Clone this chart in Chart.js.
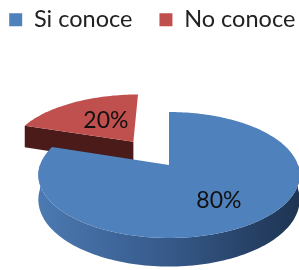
<!DOCTYPE html>
<html>
<head>
<meta charset="utf-8">
<script src="https://cdn.jsdelivr.net/npm/chart.js@4.4.1/dist/chart.umd.min.js"></script>
<style>
  html, body { margin: 0; padding: 0; background: #fff; }
  #wrap { width: 299px; height: 270px; }
</style>
</head>
<body>
<div id="wrap"><canvas id="pie" width="299" height="270"></canvas></div>
<script>
// data
const categories = ['Si conoce', 'No conoce'];
const shares = [80, 20];

// styles
const topColors = ['#4f81bd', '#c0504d'];
const sideColors = [['#4b79b1', '#36598a', '#1e3452'], ['#511e1c', '#4a1b19', '#421816']];
const explode = [0, 0.5];            // in radius units
const labelNudge = [[5, 6], [7, 2]]; // px, label fine tuning

// 3d view (tilted disc with a bit of perspective)
const view = { cx: 169, cy: 165, rx: 129, ry: 61.4, persp: 0.1587, depth: 24 };

function proj(u, v, h) {
  const s = 1 / (1 - view.persp * v);
  return [view.cx + view.rx * u * s, view.cy + (view.ry * v + view.depth * h) * s];
}

function rim(ox, oy, a, b, h) {
  const pts = [];
  const n = Math.max(2, Math.ceil(Math.abs(b - a) / (Math.PI / 120)));
  for (let i = 0; i <= n; i++) {
    const t = a + (b - a) * i / n;
    pts.push(proj(ox + Math.cos(t), oy + Math.sin(t), h));
  }
  return pts;
}

function fillPoly(ctx, pts, style) {
  ctx.beginPath();
  ctx.moveTo(pts[0][0], pts[0][1]);
  for (let i = 1; i < pts.length; i++) ctx.lineTo(pts[i][0], pts[i][1]);
  ctx.closePath();
  ctx.fillStyle = style;
  ctx.fill();
}

const pie3d = {
  id: 'pie3d',
  beforeDatasetsDraw(chart) {
    const ctx = chart.ctx;
    const arcs = chart.getDatasetMeta(0).data;
    const total = shares.reduce((s, v) => s + v, 0);

    // back slices first
    const order = arcs.map((arc, i) => i).sort((i, j) => {
      const mi = (arcs[i].startAngle + arcs[i].endAngle) / 2;
      const mj = (arcs[j].startAngle + arcs[j].endAngle) / 2;
      return Math.sin(mi) - Math.sin(mj);
    });

    ctx.save();
    order.forEach(i => {
      const arc = arcs[i];
      const a = arc.startAngle, b = arc.endAngle;
      const mid = (a + b) / 2;
      const ox = explode[i] * Math.cos(mid), oy = explode[i] * Math.sin(mid);

      const grad = ctx.createLinearGradient(view.cx - view.rx, 0, view.cx + view.rx, 0);
      grad.addColorStop(0, sideColors[i][0]);
      grad.addColorStop(0.5, sideColors[i][1]);
      grad.addColorStop(1, sideColors[i][2]);

      // outer wall, only the front half shows
      for (let k = -1; k <= 2; k++) {
        const lo = Math.max(a, 2 * Math.PI * k), hi = Math.min(b, 2 * Math.PI * k + Math.PI);
        if (hi > lo) {
          const pts = rim(ox, oy, lo, hi, 0).concat(rim(ox, oy, hi, lo, 1));
          fillPoly(ctx, pts, grad);
        }
      }

      // cut faces
      [[a, -Math.cos(a)], [b, Math.cos(b)]].forEach(([t, facing]) => {
        if (facing > 0.01) {
          const pts = [
            proj(ox, oy, 0),
            proj(ox + Math.cos(t), oy + Math.sin(t), 0),
            proj(ox + Math.cos(t), oy + Math.sin(t), 1),
            proj(ox, oy, 1)
          ];
          fillPoly(ctx, pts, sideColors[i][1]);
        }
      });

      // top face
      fillPoly(ctx, [proj(ox, oy, 0)].concat(rim(ox, oy, a, b, 0)), topColors[i]);
    });

    // percentage labels
    ctx.fillStyle = '#111';
    ctx.font = '23px Lato';
    ctx.textAlign = 'center';
    ctx.textBaseline = 'middle';
    arcs.forEach((arc, i) => {
      const mid = (arc.startAngle + arc.endAngle) / 2;
      const f = 0.55;
      const ox = explode[i] * Math.cos(mid), oy = explode[i] * Math.sin(mid);
      const p = proj(ox + f * Math.cos(mid), oy + f * Math.sin(mid), 0);
      ctx.fillText(Math.round(shares[i] / total * 100) + '%', p[0] + labelNudge[i][0], p[1] + labelNudge[i][1]);
    });
    ctx.restore();
    return false;
  }
};

new Chart(document.getElementById('pie'), {
  type: 'pie',
  data: {
    labels: categories,
    datasets: [{
      data: shares,
      backgroundColor: topColors,
      borderWidth: 0
    }]
  },
  options: {
    responsive: false,
    animation: false,
    events: [],
    layout: {
      padding: { top: -19, left: -20, right: -25.5, bottom: 0 }
    },
    plugins: {
      legend: {
        position: 'top',
        labels: {
          boxWidth: 13,
          boxHeight: 13,
          padding: 27,
          color: '#222',
          font: { family: 'Lato', size: 23.5 }
        }
      },
      tooltip: { enabled: false }
    }
  },
  plugins: [pie3d]
});
</script>
</body>
</html>
